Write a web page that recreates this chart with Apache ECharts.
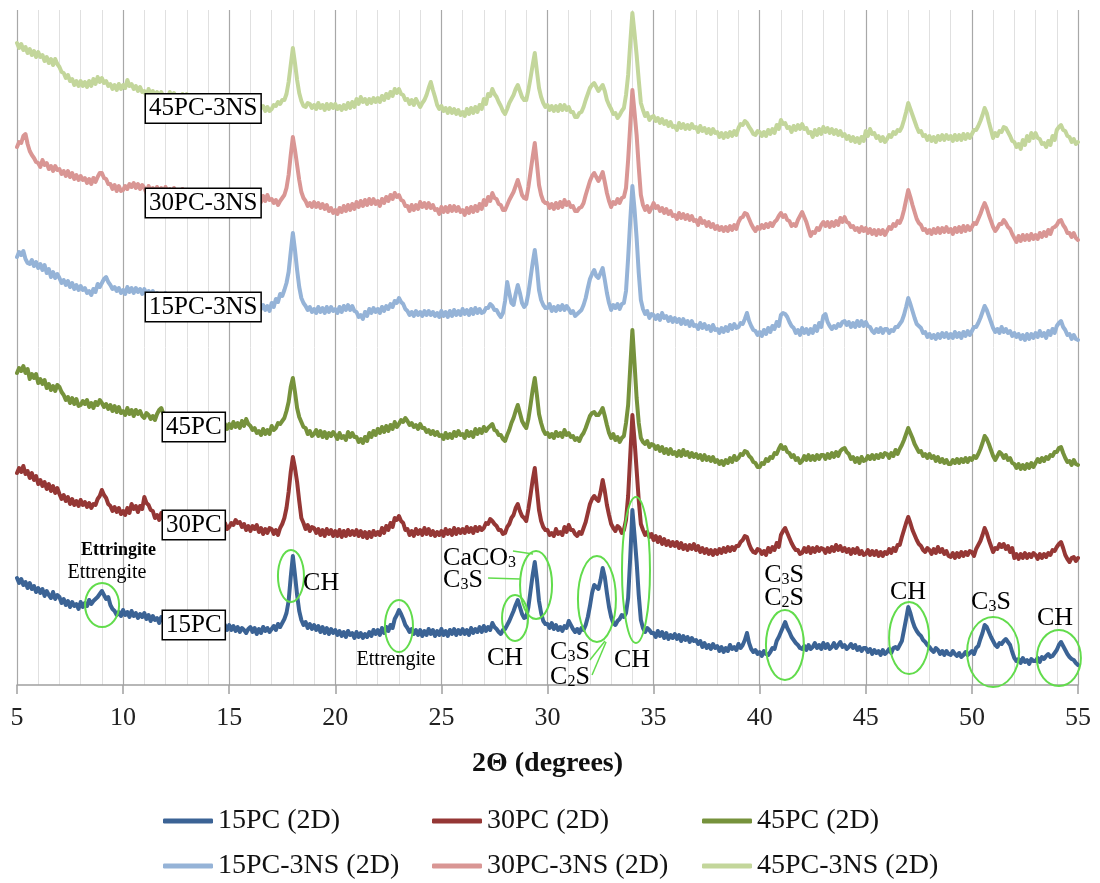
<!DOCTYPE html>
<html>
<head>
<meta charset="utf-8">
<title>XRD patterns</title>
<script src="https://cdn.jsdelivr.net/npm/echarts@6/dist/echarts.min.js"></script>
<style>
  html, body { margin: 0; padding: 0; background: #fff; }
  #main { width: 1100px; height: 883px; }
</style>
</head>
<body>
<div id="main"></div>
<script>
// Scan grid: 2θ from 5° to 55° in 0.1° steps (501 points per pattern)
const scanStart = 5;
const scanStep = 0.1;

// Intensities (offset, arbitrary units); one row = 1° of scan
const pc15 = [
  107,102,106,100,103,97,102,96,99,93,
  97,92,96,89,94,90,87,93,86,90,
  88,82,86,80,84,78,83,79,81,76,
  83,78,82,79,85,81,84,86,88,91,
  94,90,86,88,80,76,74,70,73,69,
  75,70,73,68,74,69,72,67,71,68,
  72,66,70,64,69,65,67,62,68,64,
  67,62,66,61,65,60,66,62,64,60,
  65,60,64,59,63,58,62,60,64,59,
  63,58,62,57,61,56,62,57,60,55,
  60,55,59,54,58,53,57,55,52,56,
  58,53,57,51,56,52,58,54,57,53,
  56,59,55,61,58,62,66,72,84,108,
  129,110,90,74,65,60,63,57,61,56,
  60,55,59,53,58,52,57,51,56,52,
  55,50,54,49,53,48,54,50,52,47,
  53,48,52,47,51,48,53,49,55,51,
  55,50,57,52,58,54,60,57,66,70,
  75,71,66,60,57,53,56,51,55,50,
  55,49,54,50,56,51,55,49,54,50,
  56,50,54,49,55,51,56,50,55,51,
  56,51,55,50,57,52,56,53,58,53,
  59,54,58,55,62,58,56,53,51,55,
  56,60,64,69,74,80,85,78,71,67,
  68,78,94,110,123,106,84,72,64,61,
  61,57,62,56,60,55,58,54,59,57,
  64,60,56,53,56,52,57,55,60,68,
  79,92,100,98,96,105,117,108,92,78,
  68,62,60,64,66,70,68,72,87,128,
  175,150,123,90,65,57,53,57,55,52,
  52,48,54,49,53,47,52,46,50,47,
  51,46,50,44,49,45,48,43,47,44,
  45,41,44,38,42,37,40,36,41,37,
  39,34,38,33,37,34,40,36,38,35,
  41,37,40,45,52,42,36,33,35,31,
  33,29,34,31,30,33,37,36,44,48,
  53,58,63,57,53,48,45,42,40,37,
  36,39,35,40,36,38,42,37,40,36,
  42,37,41,36,38,42,37,40,43,38,
  40,36,38,41,37,40,35,38,34,37,
  37,33,36,31,35,32,34,30,35,31,
  33,36,32,37,38,36,40,44,55,66,
  78,72,64,58,54,51,49,45,43,40,
  38,35,33,37,35,31,34,30,34,31,
  30,34,31,29,32,28,30,33,30,32,
  34,31,37,39,46,52,60,58,53,48,
  44,40,38,42,41,44,46,43,40,33,
  27,24,26,22,27,23,25,21,26,24,
  24,27,23,28,26,29,31,28,29,32,
  35,40,43,39,35,31,28,26,25,22,
  20
];
const pc30 = [
  212,217,213,219,211,214,207,212,205,209,
  201,205,199,203,196,201,194,199,192,197,
  191,186,190,184,188,181,186,180,184,179,
  185,180,183,178,182,177,181,180,186,189,
  195,190,187,181,179,174,178,173,177,171,
  174,170,177,172,181,176,179,173,179,176,
  188,182,180,175,174,167,170,165,172,166,
  169,164,170,164,168,163,167,161,168,163,
  168,162,167,161,166,160,165,159,164,160,
  164,158,163,157,162,156,161,157,162,156,
  158,162,160,165,162,163,158,161,155,159,
  154,159,156,160,153,157,151,156,152,157,
  156,151,155,150,157,161,167,177,193,213,
  228,217,203,184,167,162,156,160,154,158,
  157,152,156,150,155,149,156,151,155,149,
  154,149,155,148,154,149,155,150,154,150,
  155,149,154,148,153,147,153,148,154,150,
  153,150,157,152,159,155,162,158,167,165,
  169,164,162,155,156,150,154,149,156,151,
  155,150,157,151,156,150,154,149,153,150,
  154,149,156,151,155,150,157,151,156,152,
  156,152,158,153,157,152,158,154,158,155,
  157,162,161,166,164,161,159,155,155,151,
  152,158,161,167,170,177,181,174,169,167,
  164,176,190,205,217,196,175,164,158,155,
  155,150,152,149,156,151,153,150,158,153,
  160,155,155,151,149,153,151,157,163,172,
  181,186,189,186,184,193,205,194,180,170,
  161,157,154,159,157,152,155,165,189,230,
  270,245,215,185,161,155,150,153,148,151,
  145,149,143,148,141,146,140,144,139,143,
  139,143,137,142,136,140,135,140,136,141,
  135,139,133,137,132,136,131,135,130,135,
  131,136,132,137,133,138,134,138,135,139,
  139,143,145,149,148,141,136,133,132,136,
  135,131,134,130,137,133,138,135,142,138,
  150,154,157,152,147,142,138,135,135,131,
  132,137,133,138,132,137,133,138,134,137,
  136,132,137,133,138,134,140,135,139,134,
  137,133,136,131,136,132,137,131,134,130,
  131,135,130,134,130,134,129,133,129,133,
  131,136,132,137,134,140,140,148,155,162,
  168,162,155,150,145,141,139,135,133,137,
  135,131,136,132,138,133,136,131,134,129,
  128,132,127,132,128,133,129,133,130,134,
  133,129,136,140,144,150,157,152,145,139,
  133,137,136,141,138,141,136,139,133,137,
  127,131,126,131,127,132,127,131,128,132,
  130,126,131,127,131,128,132,130,135,134,
  138,141,143,137,130,126,123,127,128,124,
  127
];
const pc45 = [
  312,317,314,319,312,316,306,311,307,311,
  302,306,301,305,297,301,295,299,294,300,
  298,293,290,285,288,282,287,281,286,279,
  280,284,281,285,278,282,277,283,280,285,
  282,278,281,276,280,274,279,273,278,272,
  274,270,277,271,275,269,275,271,274,269,
  267,272,270,266,269,265,271,275,277,271,
  270,266,269,265,270,266,268,263,268,264,
  264,260,266,261,265,260,264,259,264,260,
  264,259,263,258,262,257,263,258,261,256,
  261,257,263,258,262,257,264,259,266,261,
  259,255,257,252,254,250,256,251,255,251,
  259,255,257,262,261,264,267,274,283,298,
  307,293,277,268,263,258,257,251,254,249,
  251,255,249,254,248,253,247,252,249,253,
  250,246,252,247,249,245,253,248,252,248,
  248,243,246,242,248,244,252,248,254,250,
  256,252,258,253,259,254,260,256,263,258,
  261,265,263,267,264,260,262,258,260,256,
  261,257,257,253,255,251,254,250,253,249,
  250,246,252,247,251,247,253,249,254,250,
  251,247,254,249,253,248,256,251,256,252,
  258,254,257,259,261,255,254,250,250,246,
  244,250,255,262,267,274,280,272,264,260,
  257,266,280,295,307,290,271,262,255,251,
  252,248,251,247,253,249,252,248,255,250,
  252,248,249,245,247,244,249,252,257,263,
  269,272,273,270,270,273,277,269,260,252,
  247,251,245,248,243,247,249,262,280,318,
  355,322,287,262,247,243,241,244,238,241,
  240,236,239,234,238,232,236,231,236,231,
  233,229,234,229,235,230,233,228,232,228,
  231,227,230,225,230,225,228,224,228,223,
  225,221,224,220,225,222,227,223,229,225,
  227,231,230,234,233,229,227,223,222,218,
  218,222,221,226,224,228,227,232,231,236,
  240,236,238,233,232,228,230,225,227,222,
  224,229,225,230,225,229,225,230,226,230,
  230,226,231,227,232,228,233,229,234,236,
  237,233,231,226,228,223,227,222,228,224,
  225,229,226,230,226,230,227,231,228,232,
  231,227,232,229,235,231,236,240,245,251,
  257,252,247,241,237,233,234,229,231,227,
  231,227,229,224,228,223,226,222,225,221,
  221,225,222,226,222,226,223,227,223,227,
  225,229,227,231,236,242,249,246,241,235,
  229,225,229,233,231,227,230,225,227,222,
  221,217,221,216,220,216,221,217,222,218,
  222,226,223,227,224,228,226,230,229,233,
  233,237,238,232,227,223,224,220,225,221,
  220
];
const pc15ns = [
  428,433,430,434,426,422,421,425,419,423,
  417,421,415,420,412,416,408,413,407,411,
  407,402,405,400,404,398,402,396,400,395,
  399,395,397,392,394,390,396,393,401,398,
  402,406,408,403,400,396,398,394,397,392,
  395,391,398,393,397,392,397,393,396,391,
  396,391,394,390,394,389,392,387,391,387,
  392,387,391,386,390,385,390,386,389,384,
  387,383,388,384,387,382,387,382,386,382,
  387,382,386,381,386,381,385,380,385,380,
  382,378,383,378,382,377,382,378,382,377,
  383,379,382,377,381,376,380,375,379,374,
  382,378,386,383,391,389,395,402,413,433,
  452,435,415,398,387,382,379,375,378,373,
  376,372,378,373,377,372,378,373,378,374,
  376,372,378,373,379,375,380,375,379,374,
  373,368,370,366,373,369,376,372,377,373,
  376,372,378,374,379,376,381,378,384,382,
  387,383,381,376,374,370,373,369,374,370,
  373,369,374,370,374,370,373,369,372,368,
  374,369,373,368,374,369,375,370,374,370,
  376,371,375,370,376,371,377,372,376,372,
  373,377,377,381,379,375,375,371,368,372,
  384,403,392,382,380,391,400,392,382,378,
  381,392,407,422,435,418,395,385,380,377,
  377,381,374,378,374,379,375,380,375,379,
  376,372,374,369,371,373,375,380,387,397,
  406,411,415,409,407,412,417,405,392,382,
  375,380,377,381,376,381,382,394,427,465,
  499,476,447,412,385,376,371,374,367,371,
  370,366,370,365,372,367,369,364,368,363,
  367,363,366,361,366,361,364,359,364,359,
  360,356,362,357,361,356,359,354,360,355,
  356,352,357,353,358,354,360,356,361,357,
  358,362,361,366,372,364,359,355,354,350,
  353,349,355,351,357,353,359,356,363,359,
  370,372,371,368,363,359,357,352,355,350,
  357,352,356,351,356,352,359,354,362,358,
  369,371,363,359,356,359,357,361,359,363,
  364,360,363,358,362,358,364,359,364,359,
  363,359,358,354,352,356,353,357,352,356,
  356,352,355,354,358,358,361,364,370,378,
  387,381,374,367,361,359,357,352,353,348,
  351,347,350,346,351,347,352,348,352,347,
  351,347,353,348,352,347,353,349,354,350,
  354,358,358,362,367,373,379,375,369,363,
  357,353,356,352,358,353,356,352,354,349,
  352,348,351,346,350,345,351,346,351,347,
  352,348,354,349,352,347,354,350,356,352,
  359,362,364,358,355,350,351,346,350,346,
  345
];
const pc30ns = [
  538,543,542,549,551,541,534,530,527,523,
  522,518,525,520,522,516,519,514,519,515,
  516,511,514,509,514,508,512,506,510,505,
  509,505,507,502,506,501,507,503,508,512,
  512,507,506,501,501,496,500,494,499,494,
  495,499,496,501,498,502,497,501,496,500,
  497,492,499,494,497,492,498,493,497,492,
  498,493,496,491,497,492,495,490,496,491,
  493,488,494,489,492,487,493,488,491,486,
  493,488,492,487,491,486,492,487,490,485,
  487,483,489,484,488,483,489,484,488,483,
  488,484,487,482,488,483,489,484,490,485,
  486,482,485,480,484,487,490,497,510,530,
  548,535,520,505,493,487,484,479,482,478,
  483,478,482,477,481,476,480,474,477,472,
  475,471,477,473,479,474,480,475,481,476,
  483,478,484,479,485,480,486,481,486,481,
  484,479,486,482,488,484,490,486,492,488,
  490,485,484,479,479,474,480,475,480,476,
  483,478,482,477,482,477,480,475,476,471,
  478,473,478,473,479,474,479,474,478,473,
  475,470,477,472,478,473,479,474,481,476,
  485,480,488,484,492,487,486,481,480,475,
  475,480,485,489,493,499,505,498,490,487,
  486,498,513,528,542,522,500,490,484,482,
  482,477,481,476,482,477,483,478,485,480,
  483,478,479,474,474,477,478,482,490,497,
  504,509,512,508,504,508,513,503,492,484,
  478,483,481,486,482,487,488,497,525,560,
  595,573,550,518,490,480,475,479,473,477,
  482,477,479,474,477,472,476,471,474,469,
  470,466,472,467,471,466,470,465,469,464,
  465,460,467,462,464,459,463,458,461,456,
  459,455,458,454,458,454,459,455,460,456,
  463,467,468,472,471,466,461,457,454,458,
  456,460,457,461,458,462,459,463,465,469,
  472,468,470,465,464,459,461,459,465,469,
  473,468,463,456,449,453,452,457,455,460,
  463,459,463,458,463,459,464,460,467,463,
  468,463,462,458,459,455,457,453,458,454,
  457,452,456,451,455,450,455,451,455,450,
  454,458,456,461,459,464,462,467,475,485,
  495,488,480,473,466,462,460,455,456,452,
  455,451,456,452,457,452,457,453,458,453,
  456,451,457,453,458,453,459,454,459,455,
  458,462,461,466,471,477,482,477,470,464,
  458,454,457,461,461,465,462,458,456,451,
  447,443,449,444,450,445,450,445,451,446,
  450,446,452,448,453,449,455,451,457,458,
  460,464,465,460,457,452,452,448,452,447,
  445
];
const pc45ns = [
  642,637,641,635,638,632,636,630,634,628,
  633,628,630,624,628,622,626,620,626,621,
  618,613,612,607,610,604,606,600,604,599,
  604,599,603,598,604,599,606,601,608,603,
  607,602,604,599,601,596,600,595,601,596,
  600,597,605,599,601,596,599,594,598,593,
  594,589,596,591,594,589,593,588,593,588,
  590,585,593,588,592,587,590,585,591,586,
  591,586,590,585,589,584,588,583,588,583,
  586,581,588,583,586,581,585,580,585,580,
  586,581,585,580,585,580,584,579,584,579,
  580,576,583,578,582,577,579,574,578,574,
  576,580,579,583,581,585,585,591,603,620,
  637,622,605,592,584,579,578,582,581,577,
  580,576,582,577,580,575,581,576,581,577,
  581,576,579,575,580,576,582,577,583,578,
  586,581,588,583,586,581,586,582,587,583,
  587,583,589,585,591,587,593,589,596,592,
  596,591,590,585,586,581,585,580,586,582,
  578,582,585,590,597,603,595,588,580,576,
  579,574,577,572,577,572,576,571,575,570,
  573,569,576,571,577,572,578,573,580,576,
  586,581,591,589,596,591,588,583,579,574,
  571,576,582,586,590,596,600,594,588,585,
  585,595,607,620,632,614,597,588,582,578,
  580,575,579,574,579,574,580,575,580,575,
  578,573,573,568,568,572,573,578,585,591,
  597,600,602,598,594,597,600,594,585,580,
  576,571,572,567,570,574,577,590,610,642,
  672,652,630,605,582,575,569,572,565,568,
  569,564,567,562,566,561,564,559,563,558,
  559,555,562,557,561,556,560,556,561,557,
  558,553,559,554,557,552,556,551,556,552,
  553,548,552,547,552,548,553,549,554,550,
  557,561,560,564,562,558,555,551,550,554,
  553,549,553,549,555,551,556,552,560,556,
  565,561,562,557,558,553,559,555,560,556,
  561,556,557,552,553,548,555,550,556,551,
  558,553,557,552,556,551,555,550,554,549,
  551,546,549,544,548,543,547,542,548,544,
  554,549,556,551,552,547,549,544,548,543,
  546,550,548,553,551,555,554,558,565,573,
  582,576,570,564,558,553,554,549,550,545,
  549,544,548,543,549,545,550,545,550,546,
  549,544,550,545,550,545,551,546,551,547,
  551,555,555,559,564,570,577,572,563,555,
  547,552,549,554,553,558,557,553,549,544,
  543,538,541,536,545,540,549,544,552,547,
  552,547,546,541,542,538,544,540,549,545,
  555,558,560,555,554,549,548,543,546,541,
  543
];

const seriesNames = ['15PC (2D)', '30PC (2D)', '45PC (2D)', '15PC-3NS (2D)', '30PC-3NS (2D)', '45PC-3NS (2D)'];
const seriesValues = [pc15, pc30, pc45, pc15ns, pc30ns, pc45ns];
const seriesColors = ['#3b6395', '#953735', '#76923c', '#95b3d7', '#d99694', '#c3d69b'];

const serif = '"Liberation Serif", "Times New Roman", serif';
const ringGreen = '#62dc4c';

function toPairs(values) {
  return values.map((v, i) => [+(scanStart + i * scanStep).toFixed(1), v]);
}

const series = seriesNames.map((name, k) => ({
  name,
  type: 'line',
  data: toPairs(seriesValues[k]),
  showSymbol: false,
  symbol: 'none',
  clip: false,
  z: 2,
  lineStyle: { color: seriesColors[k], width: 4, join: 'round', cap: 'round' },
  itemStyle: { color: seriesColors[k] },
  emphasis: { disabled: true }
}));

const legendText = { fontFamily: serif, fontSize: 28, color: '#111', lineHeight: 28 };
function legendColumn(names, left) {
  return {
    data: names, left, top: 807, orient: 'vertical', padding: 0,
    itemGap: 17, itemWidth: 50, itemHeight: 5, icon: 'roundRect',
    selectedMode: false, textStyle: legendText
  };
}

const option = {
  animation: false,
  backgroundColor: '#fff',
  grid: { left: 17, right: 22, top: 10, bottom: 198 },
  xAxis: {
    type: 'value', min: 5, max: 55, interval: 5,
    name: '2Θ (degrees)', nameLocation: 'middle', nameGap: 65,
    nameTextStyle: { fontFamily: serif, fontSize: 28, fontWeight: 'bold', color: '#111' },
    axisLine: { onZero: false, lineStyle: { color: '#a0a0a0', width: 1.5 } },
    axisTick: { show: true, length: 9, lineStyle: { color: '#a0a0a0', width: 1.5 } },
    axisLabel: { fontFamily: serif, fontSize: 26, color: '#222', margin: 20 },
    splitLine: { show: true, lineStyle: { color: '#a8a8a8', width: 1.2 } },
    minorTick: { show: false, splitNumber: 5 },
    minorSplitLine: { show: true, lineStyle: { color: '#e0e0e0', width: 1 } }
  },
  yAxis: { type: 'value', min: 0, max: 675, show: false },
  legend: [
    legendColumn(['15PC (2D)', '15PC-3NS (2D)'], 163),
    legendColumn(['30PC (2D)', '30PC-3NS (2D)'], 432),
    legendColumn(['45PC (2D)', '45PC-3NS (2D)'], 702)
  ],
  series
};

const chart = echarts.init(document.getElementById('main'));
chart.setOption(option);

// Annotations, anchored in axis units [2θ, intensity]
const sampleTags = [
  { text: '45PC-3NS', at: [11.08, 576.5] },
  { text: '30PC-3NS', at: [11.08, 482] },
  { text: '15PC-3NS', at: [11.08, 378] },
  { text: '45PC', at: [11.88, 258] },
  { text: '30PC', at: [11.88, 160] },
  { text: '15PC', at: [11.88, 60] }
];
const rings = [
  { c: [9.01, 80], rx: 17, ry: 22 },
  { c: [17.91, 109], rx: 13, ry: 26 },
  { c: [23.0, 59], rx: 14, ry: 26 },
  { c: [28.47, 67], rx: 13, ry: 23 },
  { c: [29.46, 100], rx: 16, ry: 34 },
  { c: [32.33, 86], rx: 19, ry: 43 },
  { c: [34.17, 115], rx: 14, ry: 73 },
  { c: [41.19, 40], rx: 19, ry: 35 },
  { c: [47.04, 47], rx: 20, ry: 36 },
  { c: [51.0, 33], rx: 26, ry: 35 },
  { c: [54.1, 27], rx: 22, ry: 28 }
];
const leaders = [
  { from: [28.37, 134], to: [29.32, 131] },
  { from: [27.2, 107], to: [28.7, 106] },
  { from: [32.0, 25], to: [32.71, 44] },
  { from: [32.1, 10], to: [32.76, 43] }
];
const phaseNotes = [
  { text: 'Ettringite', at: [9.78, 135], size: 18, bold: true },
  { text: 'Ettrengite', at: [9.24, 112], size: 20 },
  { text: 'CH', at: [18.48, 102], size: 26, align: 'left' },
  { text: 'Ettrengite', at: [22.86, 25], size: 20 },
  { text: 'CH', at: [28.0, 27], size: 26 },
  { text: 'CaCO{s|3}', at: [25.08, 127], size: 26, align: 'left' },
  { text: 'C{s|3}S', at: [25.08, 105], size: 26, align: 'left' },
  { text: 'C{s|3}S', at: [31.06, 33], size: 26 },
  { text: 'C{s|2}S', at: [31.06, 8], size: 26 },
  { text: 'CH', at: [33.98, 25], size: 26 },
  { text: 'C{s|3}S', at: [41.15, 110], size: 26 },
  { text: 'C{s|2}S', at: [41.15, 87], size: 26 },
  { text: 'CH', at: [46.99, 93], size: 26 },
  { text: 'C{s|3}S', at: [50.9, 83], size: 26 },
  { text: 'CH', at: [53.92, 67], size: 26 }
];

const toPx = (p) => chart.convertToPixel({ xAxisIndex: 0, yAxisIndex: 0 }, p);
const subRich = { s: { fontFamily: serif, fontSize: 16, lineHeight: 16, verticalAlign: 'bottom', fill: '#000' } };
const graphics = [];

rings.forEach((r) => {
  const [cx, cy] = toPx(r.c);
  graphics.push({
    type: 'ellipse', z: 50, silent: true,
    shape: { cx, cy, rx: r.rx, ry: r.ry },
    style: { fill: 'none', stroke: ringGreen, lineWidth: 2 }
  });
});
leaders.forEach((l) => {
  const a = toPx(l.from), b = toPx(l.to);
  graphics.push({
    type: 'line', z: 50, silent: true,
    shape: { x1: a[0], y1: a[1], x2: b[0], y2: b[1] },
    style: { stroke: ringGreen, lineWidth: 1.5 }
  });
});
phaseNotes.forEach((n) => {
  const [x, y] = toPx(n.at);
  graphics.push({
    type: 'text', z: 60, silent: true, x, y,
    style: {
      text: n.text,
      font: (n.bold ? 'bold ' : '') + n.size + 'px ' + serif,
      fill: '#000', align: n.align || 'center', verticalAlign: 'middle',
      lineHeight: n.size, rich: subRich
    }
  });
});
sampleTags.forEach((t) => {
  const [x, y] = toPx(t.at);
  graphics.push({
    type: 'text', z: 70, silent: true, x, y,
    style: {
      text: t.text, font: '25px ' + serif, fill: '#000',
      align: 'left', verticalAlign: 'middle', lineHeight: 25,
      backgroundColor: '#fff', borderColor: '#000', borderWidth: 1.5,
      padding: [2, 3, 1, 3]
    }
  });
});

chart.setOption({ graphic: graphics });
</script>
</body>
</html>
